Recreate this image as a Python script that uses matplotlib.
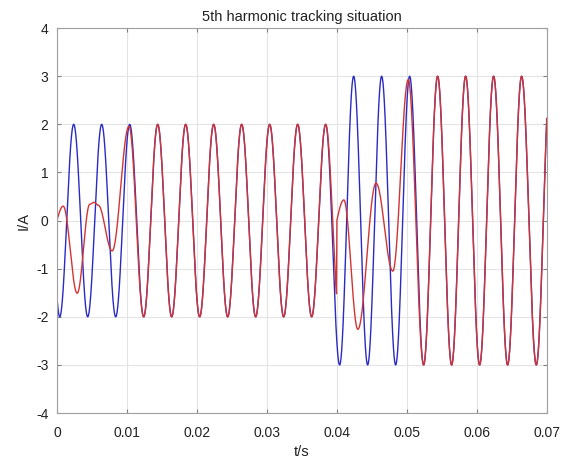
import numpy as np
import matplotlib
matplotlib.use("Agg")
import matplotlib.pyplot as plt

plt.rcParams['font.family'] = ['Liberation Sans', 'DejaVu Sans']
plt.rcParams['axes.unicode_minus'] = False

# ---- data: waveform extrema (time in s, current in A) ----
# Reference (blue): start point, then alternating troughs / peaks
blue_t = [0.0, 0.0004, 0.0024, 0.0044, 0.0064, 0.0084, 0.0104, 0.0124, 0.0144,
          0.0164, 0.0184, 0.0204, 0.0224, 0.0244, 0.0264, 0.0284, 0.0304, 0.0324,
          0.0344, 0.0364, 0.0384, 0.0404, 0.0424, 0.0444, 0.0464, 0.0484, 0.0504,
          0.0524, 0.0544, 0.0564, 0.0584, 0.0604, 0.0624, 0.0644, 0.0664, 0.0685,
          0.0705]
blue_v = [-1.6, -2, 2, -2, 2, -2, 2, -2, 2,
          -2, 2, -2, 2, -2, 2, -2, 2, -2,
          2, -2, 2, -3, 3, -3, 3, -3, 3,
          -3, 3, -3, 3, -3, 3, -3, 3, -3,
          3]

# Tracking output (red), first stage 0 - 0.04 s
red1_t = [0.0, 0.0009, 0.0029, 0.0047, 0.0053, 0.0059, 0.0079, 0.0103, 0.0124,
          0.0144, 0.0164, 0.0184, 0.0204, 0.0224, 0.0244, 0.0264, 0.0284, 0.0304,
          0.0324, 0.0344, 0.0364, 0.0384, 0.0404]
red1_v = [0.0, 0.30, -1.51, 0.34, 0.38, 0.32, -0.63, 1.96, -2,
          2, -2, 2, -2, 2, -2, 2, -2, 2,
          -2, 2, -2, 2, -2]
red1_end = 0.03995

# Tracking output (red), second stage 0.04 - 0.07 s
red2_t = [0.0400, 0.0410, 0.0430, 0.0456, 0.0480, 0.0502, 0.0524, 0.0544, 0.0564,
          0.0584, 0.0604, 0.0624, 0.0644, 0.0664, 0.0685, 0.0705]
red2_v = [0.0, 0.43, -2.26, 0.78, -1.05, 2.93, -3.0, 3, -3,
          3, -3, 3, -3, 3, -3, 3]

x_ticks = [0, 0.01, 0.02, 0.03, 0.04, 0.05, 0.06, 0.07]
x_labels = ['0', '0.01', '0.02', '0.03', '0.04', '0.05', '0.06', '0.07']
y_ticks = [-4, -3, -2, -1, 0, 1, 2, 3, 4]
t_end = 0.07


def wave(kt, kv, t0, t1, n=3000):
    """Curve through extrema: quarter-sine from the start point, half-cosines between extrema."""
    kt = np.asarray(kt, float)
    kv = np.asarray(kv, float)
    t = np.linspace(t0, t1, n)
    idx = np.clip(np.searchsorted(kt, t, side='right') - 1, 0, len(kt) - 2)
    a, b = kt[idx], kt[idx + 1]
    f = np.clip((t - a) / (b - a), 0, 1)
    shape = np.where(idx == 0, np.sin(0.5 * np.pi * f), 0.5 * (1 - np.cos(np.pi * f)))
    return t, kv[idx] + (kv[idx + 1] - kv[idx]) * shape


tb, vb = wave(blue_t, blue_v, 0.0, t_end)
tr1, vr1 = wave(red1_t, red1_v, 0.0, red1_end)
tr2, vr2 = wave(red2_t, red2_v, red2_t[0], t_end)
tr = np.concatenate([tr1, tr2])
vr = np.concatenate([vr1, vr2])

fig = plt.figure(figsize=(5.69, 4.61), dpi=100)
ax = fig.add_axes([0.100, 0.104, 0.861, 0.835])

ax.plot(tb, vb, color='#2a2ac4', lw=1.0)
ax.plot(tr, vr, color='#d23434', lw=1.0)

ax.set_xlim(0, t_end)
ax.set_ylim(-4, 4)
ax.set_xticks(x_ticks)
ax.set_xticklabels(x_labels)
ax.set_yticks(y_ticks)
ax.grid(True, color='#e4e4e4', lw=0.8)
ax.set_axisbelow(True)
for s in ax.spines.values():
    s.set_color('#a0a0a0')
    s.set_linewidth(0.8)
ax.tick_params(direction='in', top=True, right=True, length=3, color='#808080',
               labelsize=10, labelcolor='#222222')
ax.tick_params(axis='x', pad=9)
ax.tick_params(axis='y', pad=6)
ax.set_xlabel('t/s', fontsize=10.5, color='#222222', labelpad=4)
ax.set_ylabel('I/A', fontsize=10.5, color='#222222', labelpad=4)
ax.set_title('5th harmonic tracking situation', fontsize=10.5, color='#222222', pad=5)

fig.savefig('out.png', dpi=100)
